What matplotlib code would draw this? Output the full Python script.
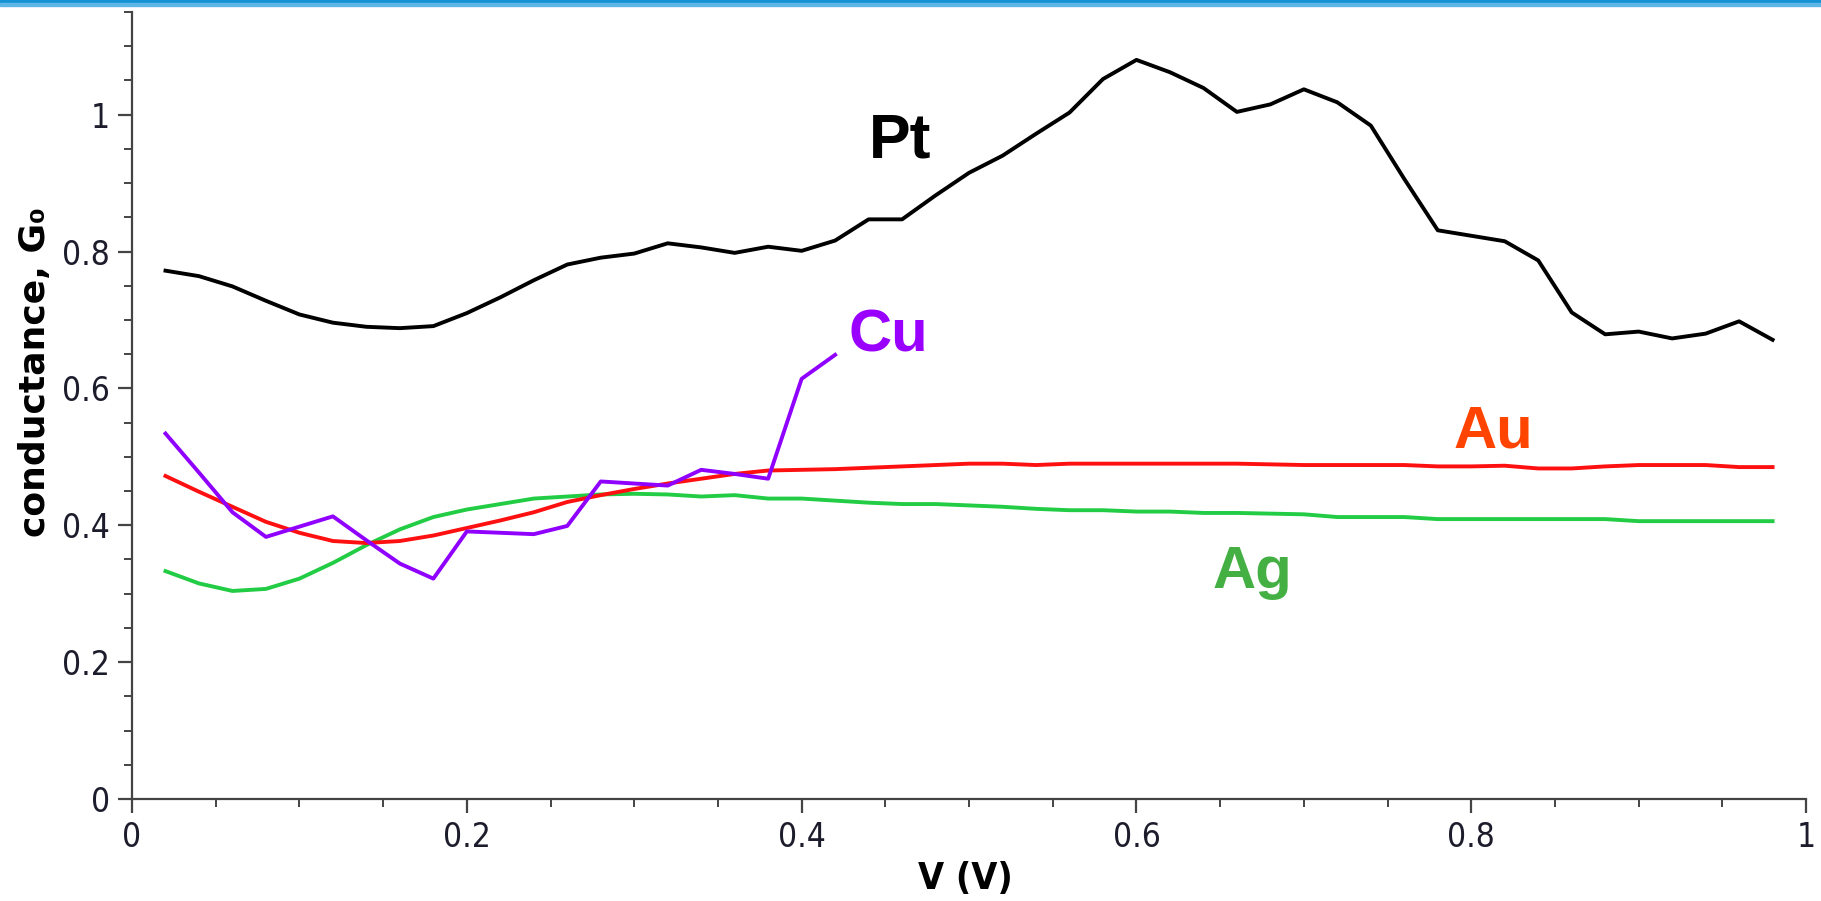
import matplotlib
matplotlib.use('Agg')
import matplotlib.pyplot as plt
from matplotlib.patches import Rectangle
from matplotlib.ticker import MultipleLocator, FuncFormatter

# bias voltage grid (V)
v_pt = [0.02, 0.04, 0.06, 0.08, 0.10, 0.12, 0.14, 0.16, 0.18, 0.20,
        0.22, 0.24, 0.26, 0.28, 0.30, 0.32, 0.34, 0.36, 0.38, 0.40,
        0.42, 0.44, 0.46, 0.48, 0.50, 0.52, 0.54, 0.56, 0.58, 0.60,
        0.62, 0.64, 0.66, 0.68, 0.70, 0.72, 0.74, 0.76, 0.78, 0.80,
        0.82, 0.84, 0.86, 0.88, 0.90, 0.92, 0.94, 0.96, 0.98]
v_au = v_pt
v_ag = v_pt
v_cu = v_pt[:21]

# conductance in units of G0
g_pt = [0.772, 0.764, 0.749, 0.728, 0.708, 0.696, 0.690, 0.688, 0.691, 0.710,
        0.733, 0.758, 0.781, 0.791, 0.797, 0.812, 0.806, 0.798, 0.807, 0.801,
        0.816, 0.847, 0.847, 0.882, 0.915, 0.940, 0.972, 1.003, 1.052, 1.080,
        1.062, 1.039, 1.004, 1.015, 1.037, 1.018, 0.984, 0.906, 0.831, 0.823,
        0.815, 0.787, 0.711, 0.679, 0.683, 0.673, 0.680, 0.698, 0.671]
g_cu = [0.534, 0.477, 0.419, 0.383, 0.398, 0.413, 0.378, 0.344, 0.322, 0.391,
        0.389, 0.387, 0.399, 0.464, 0.461, 0.458, 0.481, 0.475, 0.468, 0.614,
        0.649]
g_au = [0.472, 0.449, 0.427, 0.405, 0.389, 0.377, 0.374, 0.377, 0.385, 0.396,
        0.407, 0.419, 0.434, 0.444, 0.453, 0.461, 0.468, 0.475, 0.480, 0.481,
        0.482, 0.484, 0.486, 0.488, 0.490, 0.490, 0.488, 0.490, 0.490, 0.490,
        0.490, 0.490, 0.490, 0.489, 0.488, 0.488, 0.488, 0.488, 0.486, 0.486,
        0.487, 0.483, 0.483, 0.486, 0.488, 0.488, 0.488, 0.485, 0.485]
g_ag = [0.333, 0.315, 0.304, 0.307, 0.322, 0.345, 0.371, 0.394, 0.412, 0.423,
        0.431, 0.439, 0.442, 0.445, 0.446, 0.445, 0.442, 0.444, 0.439, 0.439,
        0.436, 0.433, 0.431, 0.431, 0.429, 0.427, 0.424, 0.422, 0.422, 0.420,
        0.420, 0.418, 0.418, 0.417, 0.416, 0.412, 0.412, 0.412, 0.409, 0.409,
        0.409, 0.409, 0.409, 0.409, 0.406, 0.406, 0.406, 0.406, 0.406]

fig = plt.figure(figsize=(18.21, 9.01), dpi=100)
ax = fig.add_axes([0.0725, 0.1132, 0.9193, 0.8735])

# thin blue band along the top edge
fig.patches.append(Rectangle((0, 1 - 3 / 901), 1, 3 / 901, transform=fig.transFigure,
                             color='#1592d3', zorder=5))
fig.patches.append(Rectangle((0, 1 - 6 / 901), 1, 3 / 901, transform=fig.transFigure,
                             color='#5db6e6', zorder=5))

ax.plot(v_pt, g_pt, color='black', lw=2.8)
ax.plot(v_ag, g_ag, color='#22cc44', lw=2.8)
ax.plot(v_au, g_au, color='#ff1010', lw=2.8)
ax.plot(v_cu, g_cu, color='#8f00ff', lw=2.8)

lab = dict(family=['Liberation Sans', 'DejaVu Sans'], weight='bold',
           ha='center', va='center')
ax.text(0.459, 0.961, 'Pt', color='black', fontsize=45, **lab)
ax.text(0.452, 0.676, 'Cu', color='#9900ff', fontsize=43, **lab)
ax.text(0.813, 0.537, 'Au', color='#ff4400', fontsize=43, **lab)
ax.text(0.669, 0.331, 'Ag', color='#44b044', fontsize=43, **lab)

ax.set_xlim(0, 1)
ax.set_ylim(0, 1.15)
for s in ['top', 'right']:
    ax.spines[s].set_visible(False)
for s in ['left', 'bottom']:
    ax.spines[s].set_color('#444444')
    ax.spines[s].set_linewidth(1.6)

ax.xaxis.set_major_locator(MultipleLocator(0.2))
ax.xaxis.set_minor_locator(MultipleLocator(0.05))
ax.yaxis.set_major_locator(MultipleLocator(0.2))
ax.yaxis.set_minor_locator(MultipleLocator(0.05))
fmt = FuncFormatter(lambda x, pos: '%g' % round(x, 2))
ax.xaxis.set_major_formatter(fmt)
ax.yaxis.set_major_formatter(fmt)
ax.tick_params(which='major', length=10, width=1.6, color='#444444', pad=6,
               labelsize=24, labelcolor='#1c1c2c')
ax.tick_params(which='minor', length=6, width=1.4, color='#444444')
for t in ax.get_xticklabels() + ax.get_yticklabels():
    t.set_family('DejaVu Sans')
    t.set_stretch('condensed')

ax.set_xlabel('V (V)', fontsize=27, fontweight='bold', va='center',
              family='DejaVu Sans', fontstretch='condensed')
ax.xaxis.set_label_coords(0.498, -0.1016)
ax.set_ylabel('conductance, G₀', fontsize=26, fontweight='bold', va='center',
              family=['DejaVu Sans'])
ax.yaxis.set_label_coords(-0.058, 0.542)

plt.savefig('out.png', dpi=100)
